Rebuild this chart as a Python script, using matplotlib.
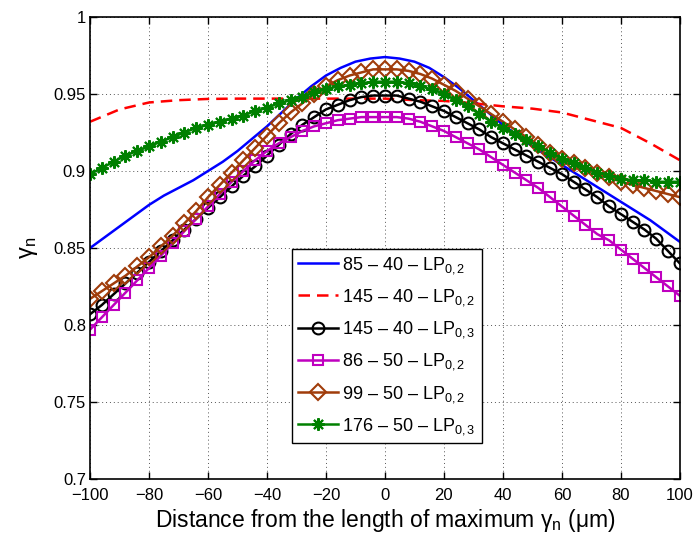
import numpy as np
import matplotlib
matplotlib.use("Agg")
import matplotlib.pyplot as plt

plt.rcParams['font.family'] = ['Liberation Sans', 'DejaVu Sans']
plt.rcParams['mathtext.fontset'] = 'custom'
plt.rcParams['mathtext.rm'] = 'Liberation Sans'
plt.rcParams['mathtext.it'] = 'Liberation Sans'
plt.rcParams['mathtext.bf'] = 'Liberation Sans:bold'

# ---- data ----
x_line = [-100, -95, -90, -85, -80, -75, -70, -65, -60, -55, -50, -45, -40, -35, -30,
          -25, -20, -15, -10, -5, 0, 5, 10, 15, 20, 25, 30, 35, 40, 45, 50, 55, 60,
          65, 70, 75, 80, 85, 90, 95, 100]
blue_85_40_lp02 = [0.850, 0.857, 0.864, 0.871, 0.878, 0.884, 0.889, 0.894, 0.900, 0.906,
                   0.913, 0.921, 0.929, 0.938, 0.947, 0.955, 0.962, 0.967, 0.971, 0.973,
                   0.974, 0.973, 0.971, 0.967, 0.961, 0.954, 0.946, 0.938, 0.930, 0.923,
                   0.916, 0.910, 0.904, 0.898, 0.892, 0.886, 0.880, 0.874, 0.868, 0.861,
                   0.854]

x_red = [-100, -90, -80, -70, -60, -50, -40, -30, -20, -10, 0, 10, 20, 30, 40, 50, 60,
         70, 80, 90, 100]
red_145_40_lp02 = [0.932, 0.940, 0.9445, 0.946, 0.9468, 0.947, 0.947, 0.947, 0.947, 0.947,
                   0.947, 0.946, 0.9455, 0.944, 0.942, 0.9405, 0.938, 0.933, 0.928, 0.918,
                   0.907]

x_mk = [-100, -96, -92, -88, -84, -80, -76, -72, -68, -64, -60, -56, -52, -48, -44, -40,
        -36, -32, -28, -24, -20, -16, -12, -8, -4, 0, 4, 8, 12, 16, 20, 24, 28, 32, 36,
        40, 44, 48, 52, 56, 60, 64, 68, 72, 76, 80, 84, 88, 92, 96, 100]

black_145_40_lp03 = [0.807, 0.813, 0.820, 0.827, 0.834, 0.841, 0.848, 0.855, 0.862, 0.869,
                     0.876, 0.883, 0.890, 0.897, 0.903, 0.910, 0.917, 0.924, 0.930, 0.935,
                     0.940, 0.943, 0.946, 0.948, 0.949, 0.949, 0.949, 0.947, 0.945, 0.942,
                     0.939, 0.935, 0.931, 0.927, 0.922, 0.918, 0.914, 0.910, 0.906, 0.902,
                     0.898, 0.893, 0.888, 0.883, 0.877, 0.872, 0.867, 0.862, 0.856, 0.848,
                     0.840]

magenta_86_50_lp02 = [0.797, 0.805, 0.813, 0.821, 0.829, 0.837, 0.845, 0.853, 0.861, 0.869,
                      0.877, 0.885, 0.893, 0.900, 0.907, 0.913, 0.918, 0.922, 0.926, 0.929,
                      0.931, 0.933, 0.934, 0.935, 0.935, 0.935, 0.935, 0.934, 0.932, 0.929,
                      0.926, 0.922, 0.918, 0.914, 0.909, 0.904, 0.899, 0.894, 0.889, 0.883,
                      0.877, 0.871, 0.865, 0.859, 0.855, 0.849, 0.843, 0.837, 0.831, 0.825,
                      0.819]

brown_99_50_lp02 = [0.817, 0.822, 0.827, 0.832, 0.838, 0.844, 0.851, 0.858, 0.866, 0.874,
                    0.883, 0.891, 0.899, 0.907, 0.915, 0.923, 0.931, 0.938, 0.944, 0.950,
                    0.955, 0.959, 0.962, 0.964, 0.966, 0.966, 0.966, 0.965, 0.963, 0.960,
                    0.956, 0.952, 0.947, 0.942, 0.937, 0.932, 0.927, 0.922, 0.917, 0.912,
                    0.908, 0.905, 0.902, 0.899, 0.896, 0.893, 0.891, 0.889, 0.887, 0.885,
                    0.883]

green_176_50_lp03 = [0.898, 0.902, 0.906, 0.910, 0.913, 0.916, 0.919, 0.922, 0.925, 0.928,
                     0.930, 0.932, 0.934, 0.936, 0.939, 0.941, 0.944, 0.946, 0.948, 0.951,
                     0.953, 0.955, 0.956, 0.957, 0.958, 0.958, 0.958, 0.957, 0.955, 0.953,
                     0.950, 0.946, 0.942, 0.937, 0.932, 0.928, 0.924, 0.920, 0.916, 0.912,
                     0.908, 0.905, 0.902, 0.899, 0.897, 0.895, 0.894, 0.894, 0.893, 0.893,
                     0.893]

labels = [r'85 – 40 – LP$_{0,2}$', r'145 – 40 – LP$_{0,2}$', r'145 – 40 – LP$_{0,3}$',
          r'86 – 50 – LP$_{0,2}$', r'99 – 50 – LP$_{0,2}$', r'176 – 50 – LP$_{0,3}$']

xticks = [-100, -80, -60, -40, -20, 0, 20, 40, 60, 80, 100]
xticklabels = ['\u2212100', '\u221280', '\u221260', '\u221240', '\u221220', '0', '20', '40',
               '60', '80', '100']
yticks = [0.7, 0.75, 0.8, 0.85, 0.9, 0.95, 1.0]
yticklabels = ['0.7', '0.75', '0.8', '0.85', '0.9', '0.95', '1']

# ---- plot ----
fig = plt.figure(figsize=(6.93, 5.40), dpi=100)
ax = fig.add_axes([0.13, 0.113, 0.851, 0.8555])

lw = 1.8
mew = 1.5
ax.plot(x_line, blue_85_40_lp02, color='#0000FF', lw=lw, label=labels[0])
ax.plot(x_red, red_145_40_lp02, color='#FF0000', lw=lw, linestyle=(0, (4.6, 2.8)), label=labels[1])
ax.plot(x_mk, black_145_40_lp03, color='black', lw=lw, marker='o', ms=8.5, mew=mew,
        mfc='none', label=labels[2])
ax.plot(x_mk, magenta_86_50_lp02, color='#BF00BF', lw=lw, marker='s', ms=7.5, mew=mew,
        mfc='none', label=labels[3])
ax.plot(x_mk, brown_99_50_lp02, color='#A03C0A', lw=lw, marker='D', ms=8.5, mew=mew,
        mfc='none', label=labels[4])
ax.plot(x_mk, green_176_50_lp03, color='#008000', lw=lw, marker=(8, 2, 0), ms=9, mew=mew,
        label=labels[5])

ax.set_xlim(-100, 100)
ax.set_ylim(0.7, 1.0)
ax.set_xticks(xticks)
ax.set_xticklabels(xticklabels)
ax.set_yticks(yticks)
ax.set_yticklabels(yticklabels)
ax.tick_params(direction='in', top=True, right=True, length=5, width=1, labelsize=12)
ax.tick_params(axis='x', pad=6.5)
ax.tick_params(axis='y', pad=3)
ax.grid(True, linestyle=(0, (1, 3)), color='#555555', lw=0.7)
for s in ax.spines.values():
    s.set_linewidth(1.2)

ax.set_xlabel('Distance from the length of maximum γ$_n$ (μm)', fontsize=16.5, labelpad=3)
ax.set_ylabel('γ$_n$', fontsize=17, labelpad=10)

leg = ax.legend(loc='upper left', bbox_to_anchor=(0.342, 0.498), borderaxespad=0,
                fontsize=13, fancybox=False, framealpha=1, edgecolor='black',
                handlelength=2.2, handletextpad=0.25, labelspacing=0.62, borderpad=0.35)
leg.get_frame().set_linewidth(1.0)

fig.savefig('out.png', dpi=100)
